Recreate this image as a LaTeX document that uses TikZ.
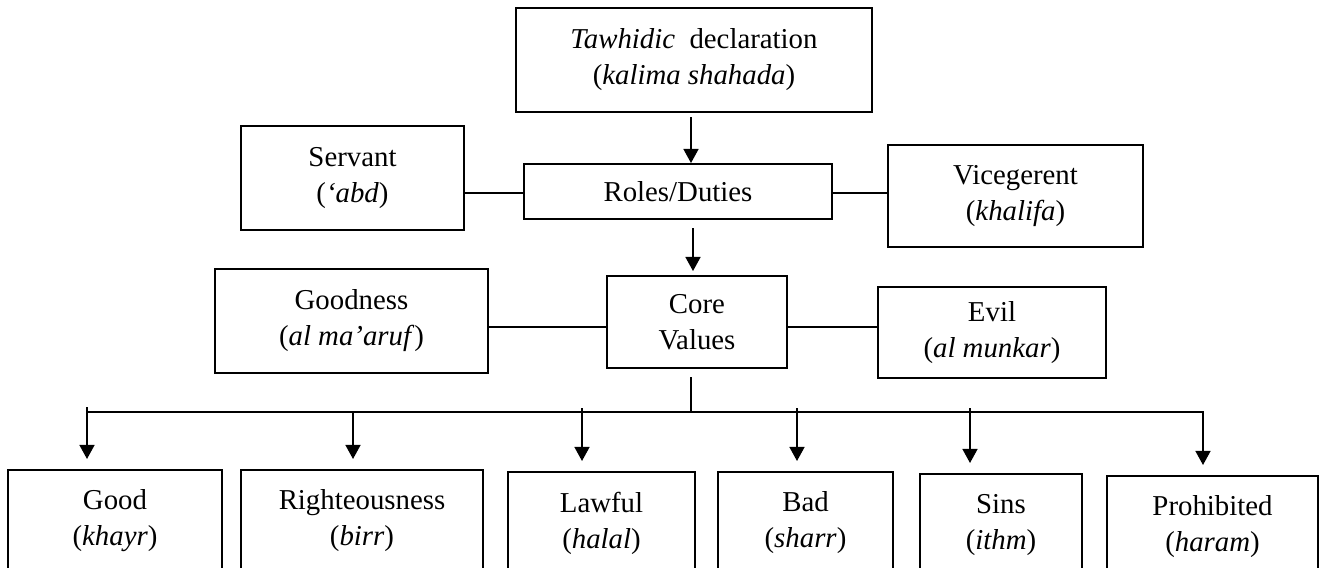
\documentclass[tikz,border=0pt]{standalone}
\usepackage{fontspec}
\setmainfont{Liberation Serif}
\usepackage{tikz}
\usetikzlibrary{arrows.meta}

\begin{document}
\begin{tikzpicture}[x=0.02cm,y=-0.02cm,
  textbox/.style={draw, line width=1.1pt, align=center, inner sep=0pt, font=\fontsize{16.4}{20.5}\selectfont},
  link/.style={line width=1.1pt},
  arr/.style={line width=1pt, -{Triangle[length=8pt,width=8.5pt]}}]
\clip (0,0) rectangle (1320,568);
%upper part
\node[textbox, minimum width=7.12cm, minimum height=2.08cm] (tawhid) at (694,60) {\textit{Tawhidic}\ \ declaration\\(\textit{kalima shahada})};
\node[textbox, minimum width=4.46cm, minimum height=2.08cm] (servant) at (352.5,178) {Servant\\(\textit{`abd})};
\node[textbox, minimum width=6.16cm, minimum height=1.10cm] (roles) at (678,191.5) {Roles/Duties};
\node[textbox, minimum width=5.10cm, minimum height=2.04cm] (khalifa) at (1015.5,196) {Vicegerent\\(\textit{khalifa})};
\node[textbox, minimum width=5.46cm, minimum height=2.08cm] (goodness) at (351.5,321) {Goodness\\(\textit{al ma'aruf})};
\node[textbox, minimum width=3.60cm, minimum height=1.84cm] (core) at (697,322) {Core\\Values};
\node[textbox, minimum width=4.56cm, minimum height=1.82cm] (evil) at (992,332.5) {Evil\\(\textit{al munkar})};
%lower part
\node[textbox, anchor=north, minimum width=4.28cm, minimum height=2.04cm] (good) at (115,469) {Good\\(\textit{khayr})};
\node[textbox, anchor=north, minimum width=4.84cm, minimum height=2.04cm] (birr) at (362,469) {Righteousness\\(\textit{birr})};
\node[textbox, anchor=north, minimum width=3.74cm, minimum height=2.04cm] (halal) at (601.5,471) {Lawful\\(\textit{halal})};
\node[textbox, anchor=north, minimum width=3.50cm, minimum height=2.04cm] (bad) at (805.5,471) {Bad\\(\textit{sharr})};
\node[textbox, anchor=north, minimum width=3.24cm, minimum height=2.04cm] (sins) at (1001,473) {Sins\\(\textit{ithm})};
\node[textbox, anchor=north, minimum width=4.22cm, minimum height=2.04cm] (haram) at (1212.5,475) {Prohibited\\(\textit{haram})};
\coordinate (a1) at (691,117);
\coordinate (a2) at (693,228);
\coordinate (stub) at (691,377);
\coordinate (b0) at (691,412);
\coordinate (b1) at (87,407);
\coordinate (b2) at (353,412);
\coordinate (b3) at (582,408);
\coordinate (b4) at (797,408);
\coordinate (b5) at (970,408);
\coordinate (b6) at (1203,412);
\draw [arr] (a1) -- (a1 |- roles.north);
\draw [arr, shorten >=4*0.02cm] (a2) -- (a2 |- core.north);
\draw [link] ([yshift=-0.03cm]roles.west) -- ([yshift=-0.03cm]roles.west -| servant.east);
\draw [link] ([yshift=-0.03cm]roles.east) -- ([yshift=-0.03cm]roles.east -| khalifa.west);
\draw [link] ([yshift=-0.1cm]core.west) -- ([yshift=-0.1cm]core.west -| goodness.east);
\draw [link] ([yshift=-0.1cm]core.east) -- ([yshift=-0.1cm]core.east -| evil.west);
\draw [link] (stub) -- (b0);
\draw [link] (b1 |- b0) -- (b0);
\draw [arr, shorten >=10*0.02cm] (b0) -- (b6) -- (b6 |- haram.north);
\draw [arr, shorten >=10*0.02cm] (b1) -- (b1 |- good.north);
\draw [arr, shorten >=10*0.02cm] (b2) -- (b2 |- birr.north);
\draw [arr, shorten >=10*0.02cm] (b3) -- (b3 |- halal.north);
\draw [arr, shorten >=10*0.02cm] (b4) -- (b4 |- bad.north);
\draw [arr, shorten >=10*0.02cm] (b5) -- (b5 |- sins.north);
\end{tikzpicture}
\end{document}
